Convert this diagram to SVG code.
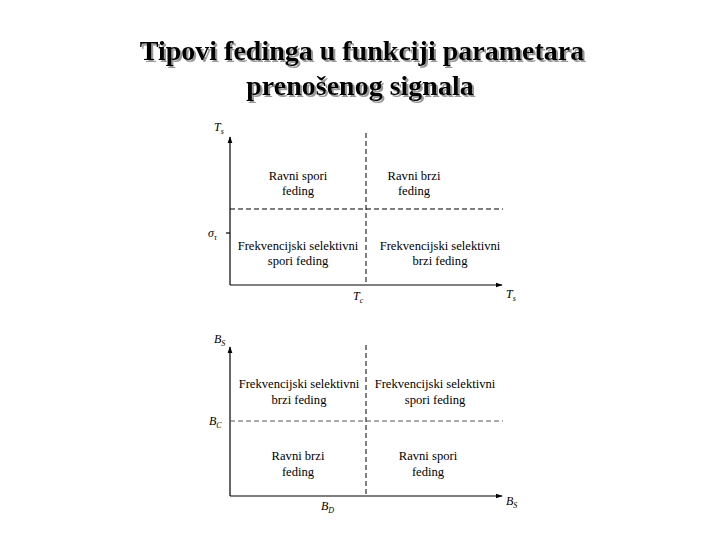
<svg xmlns="http://www.w3.org/2000/svg" width="720" height="540" viewBox="0 0 720 540">
<style>
.title{font-family:'Liberation Serif','Times New Roman',serif;font-size:28px;font-weight:bold;fill:#000;text-anchor:middle}
.lbl{font-family:'Liberation Serif','Times New Roman',serif;font-size:12.6px;fill:#000;text-anchor:middle}
.ax{font-family:'Liberation Serif','Times New Roman',serif;font-size:12px;font-style:italic;fill:#000}
.sub{font-size:8px}
.axis{stroke:#000;stroke-width:1.2;fill:none}
.dash{stroke:#000;stroke-width:1;stroke-dasharray:5,3;fill:none}
.dashg{stroke:#555;stroke-width:1;stroke-dasharray:5,3;fill:none}
</style>
<defs>
<marker id="arr" viewBox="0 0 10 10" refX="9" refY="5" markerWidth="7" markerHeight="7" orient="auto" markerUnits="userSpaceOnUse">
<path d="M0,1.5 L10,5 L0,8.5 Z" fill="#000"/>
</marker>
<filter id="shd" x="-5%" y="-20%" width="110%" height="150%">
<feDropShadow dx="2" dy="2" stdDeviation="0.6" flood-color="#999" flood-opacity="1"/>
</filter>
</defs>
<rect width="720" height="540" fill="#fff"/>
<g id="title" filter="url(#shd)">
<text class="title" x="362" y="60">Tipovi fedinga u funkciji parametara</text>
<text class="title" x="360" y="95">prenošenog signala</text>
</g>
<g id="connectors">
<line class="axis" x1="230" y1="285" x2="230" y2="137" marker-end="url(#arr)"/>
<line class="axis" x1="230" y1="285" x2="502" y2="285" marker-end="url(#arr)"/>
<line class="dash" x1="366" y1="133" x2="366" y2="285"/>
<line class="dash" x1="230" y1="209" x2="503" y2="209"/>
<line class="axis" x1="226" y1="233" x2="230" y2="233"/>
<line class="axis" x1="230" y1="496" x2="230" y2="347" marker-end="url(#arr)"/>
<line class="axis" x1="230" y1="496" x2="502" y2="496" marker-end="url(#arr)"/>
<line class="dash" x1="366" y1="345" x2="366" y2="496"/>
<line class="dashg" x1="230" y1="421" x2="503" y2="421"/>
</g>
<g id="upper-labels">
<text class="ax" x="214" y="131">T<tspan class="sub" dy="3">s</tspan></text>
<text class="ax" x="208" y="237">σ<tspan class="sub" dy="3">τ</tspan></text>
<text class="ax" x="353" y="300">T<tspan class="sub" dy="3">c</tspan></text>
<text class="ax" x="506" y="298">T<tspan class="sub" dy="3">s</tspan></text>
</g>
<g id="q-ravni-spori-1">
<text class="lbl" x="298" y="180">Ravni spori</text>
<text class="lbl" x="298" y="195">feding</text>
</g>
<g id="q-ravni-brzi-1">
<text class="lbl" x="414" y="180">Ravni brzi</text>
<text class="lbl" x="414" y="195">feding</text>
</g>
<g id="q-fs-spori-1">
<text class="lbl" x="298" y="250">Frekvencijski selektivni</text>
<text class="lbl" x="298" y="265">spori feding</text>
</g>
<g id="q-fs-brzi-1">
<text class="lbl" x="440" y="250">Frekvencijski selektivni</text>
<text class="lbl" x="440" y="265">brzi feding</text>
</g>
<g id="lower-labels">
<text class="ax" x="214" y="343">B<tspan class="sub" dy="3">S</tspan></text>
<text class="ax" x="209" y="425">B<tspan class="sub" dy="3">C</tspan></text>
<text class="ax" x="321" y="510">B<tspan class="sub" dy="3">D</tspan></text>
<text class="ax" x="506" y="505">B<tspan class="sub" dy="3">S</tspan></text>
</g>
<g id="q-fs-brzi-2">
<text class="lbl" x="299" y="388">Frekvencijski selektivni</text>
<text class="lbl" x="299" y="404">brzi feding</text>
</g>
<g id="q-fs-spori-2">
<text class="lbl" x="435" y="388">Frekvencijski selektivni</text>
<text class="lbl" x="435" y="404">spori feding</text>
</g>
<g id="q-ravni-brzi-2">
<text class="lbl" x="298" y="460">Ravni brzi</text>
<text class="lbl" x="298" y="476">feding</text>
</g>
<g id="q-ravni-spori-2">
<text class="lbl" x="428" y="460">Ravni spori</text>
<text class="lbl" x="428" y="476">feding</text>
</g>
</svg>
